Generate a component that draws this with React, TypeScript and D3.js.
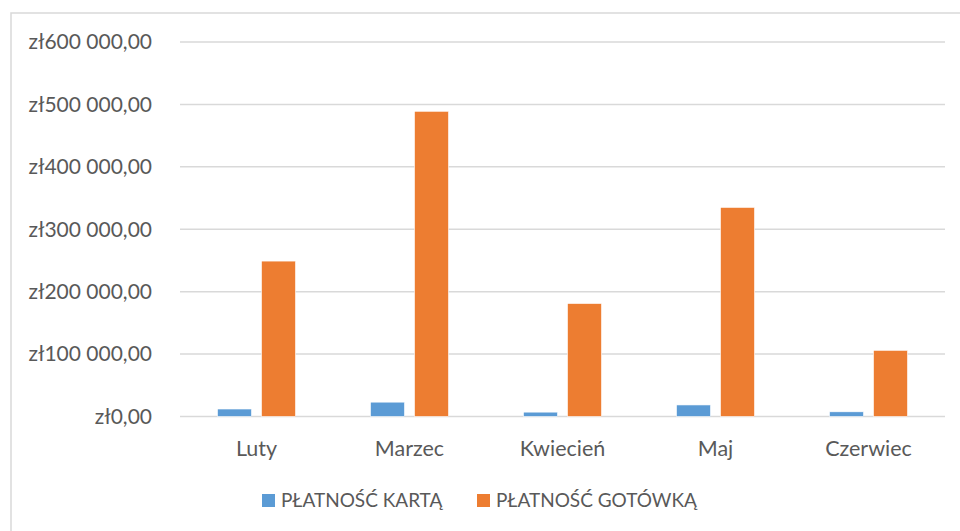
import React from 'react';
import * as d3 from 'd3';

const months = ['Luty', 'Marzec', 'Kwiecień', 'Maj', 'Czerwiec'];
const cardPayments = [12000, 23000, 7000, 18500, 7500];
const cashPayments = [249000, 489000, 181000, 335000, 106000];
const seriesNames = ['PŁATNOŚĆ KARTĄ', 'PŁATNOŚĆ GOTÓWKĄ'];
const seriesColors = ['#5b9bd5', '#ed7d31'];
const yTicks = [0, 100000, 200000, 300000, 400000, 500000, 600000];

const W = 960;
const H = 531;
const FONT = 'Lato, "Open Sans", sans-serif';

function formatZl(v: number) {
  const whole = d3.format(',')(v).replace(/,/g, ' ');
  return 'zł' + whole + ',00';
}

export default function App() {
  const x = d3.scaleBand<string>().domain(months).range([180, 945]);
  const y = d3.scaleLinear().domain([0, 600000]).range([416.5, 42]);
  const inner = d3
    .scaleBand<number>()
    .domain([0, 1])
    .range([0, x.bandwidth()])
    .paddingInner(0.227)
    .paddingOuter(0.852);

  const series = [cardPayments, cashPayments];

  return (
    <div style={{ position: 'fixed', left: 0, top: 0 }}>
      <svg width={W} height={H} style={{ display: 'block', background: '#fff' }}>
        <rect x={11} y={13} width={W} height={H} fill="none" stroke="#d9d9d9" strokeWidth={1.5} />
        {yTicks.map((t) => (
          <g key={t}>
            <line x1={180} x2={945} y1={y(t)} y2={y(t)} stroke="#d9d9d9" strokeWidth={1.5} />
            <text
              x={152}
              y={y(t)}
              dy="0.35em"
              textAnchor="end"
              fontFamily={FONT}
              fontSize={21}
              fill="#595959"
            >
              {formatZl(t)}
            </text>
          </g>
        ))}
        {months.map((m, i) => (
          <g key={m}>
            {series.map((s, j) => (
              <rect
                key={j}
                x={(x(m) || 0) + (inner(j) || 0)}
                y={y(s[i])}
                width={inner.bandwidth()}
                height={y(0) - y(s[i])}
                fill={seriesColors[j]}
                stroke="#fff"
                strokeWidth={0.6}
              />
            ))}
            <text
              x={(x(m) || 0) + x.bandwidth() / 2}
              y={456}
              textAnchor="middle"
              fontFamily={FONT}
              fontSize={21.5}
              fill="#595959"
            >
              {m}
            </text>
          </g>
        ))}
        {seriesNames.map((name, j) => {
          const lx = j === 0 ? 262 : 477;
          return (
            <g key={name}>
              <rect x={lx} y={494} width={13} height={13} fill={seriesColors[j]} />
              <text
                x={lx + 19}
                y={507}
                fontFamily={FONT}
                fontSize={19}
                fill="#595959"
              >
                {name}
              </text>
            </g>
          );
        })}
      </svg>
    </div>
  );
}
